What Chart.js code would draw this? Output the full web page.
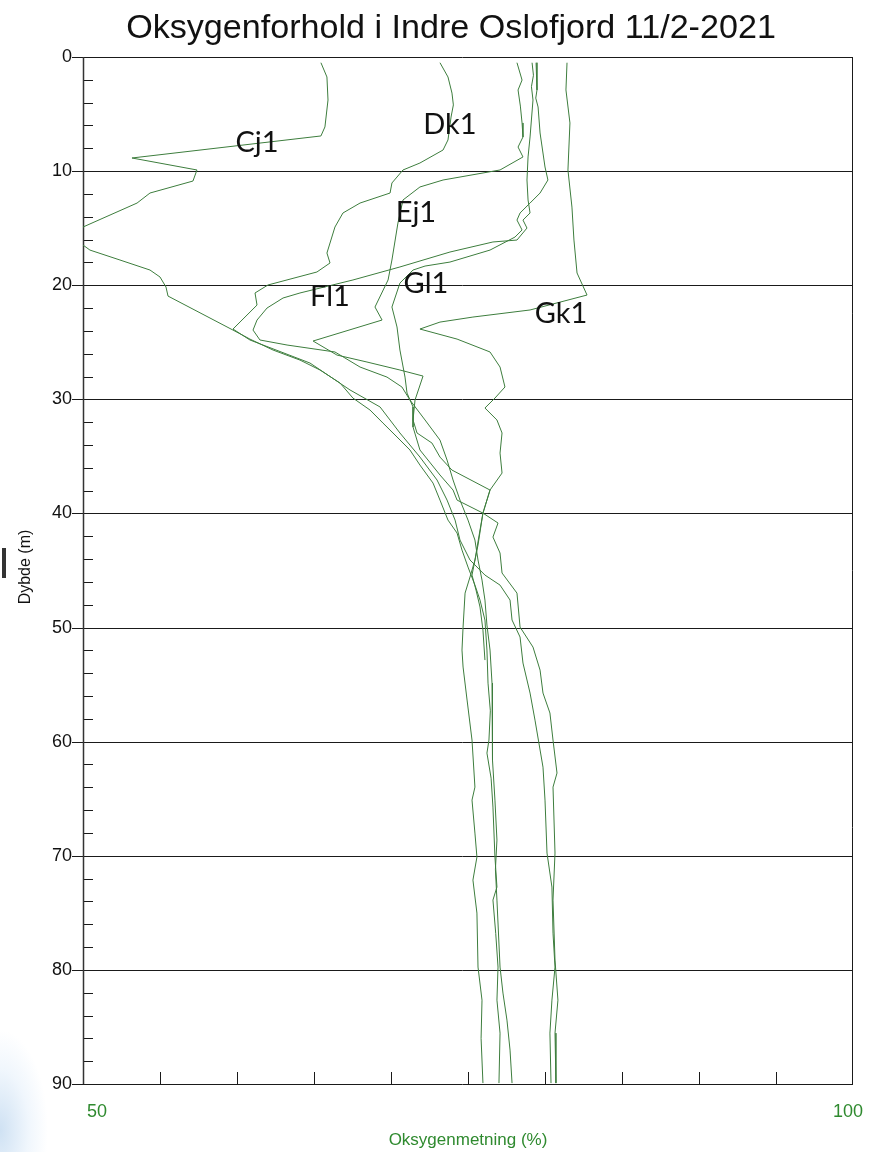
<!DOCTYPE html>
<html>
<head>
<meta charset="utf-8">
<script src="https://cdn.jsdelivr.net/npm/chart.js@4"></script>
<style>
  html,body{margin:0;padding:0;background:#fff;}
  #wrap{position:relative;width:873px;height:1152px;overflow:hidden;
    background:radial-gradient(ellipse 48px 100px at 0px 1130px, rgba(195,218,240,0.8), rgba(222,236,250,0.45) 60%, rgba(255,255,255,0) 100%), #fff;}
  #mark{position:absolute;left:2px;top:548px;width:4px;height:30px;background:#333;}
  canvas{position:absolute;left:0;top:0;}
</style>
</head>
<body>
<div id="wrap"><div id="mark"></div><canvas id="c" width="873" height="1152"></canvas></div>
<script>
// ---- Data (oxygen saturation %, depth m) ----
const titleText = "Oksygenforhold i Indre Oslofjord 11/2-2021";
const xTitle = "Oksygenmetning (%)";
const yTitle = "Dybde (m)";
const yTickLabels = ["0","10","20","30","40","50","60","70","80","90"];
const xTickLabels = ["50","100"];
const stationNames = ["Cj1","Dk1","Ej1","Fl1","Gl1","Gk1"];

const cj1Oxy   = [65.45,65.84,65.91,65.71,65.45,53.18,57.40,57.14,54.35,53.51,50.0,49.6,49.6,50.0,50.45,52.40,54.35,55.0,55.39,55.52,59.74,60.84,62.34,64.09,65.39,66.69,67.53,68.64,69.48,70.39,71.23,71.88,72.73,73.18,73.70,74.29,74.61,75.0,75.45,75.78,76.10,76.23,76.30,76.45,76.36,76.23,76.50,76.62,76.75,76.88,76.62,76.80,76.95,76.88,77.08,77.01];
const cj1Depth = [0.5,1.75,3.77,6.13,6.92,8.85,9.90,10.87,11.92,12.80,14.9,15.6,16.4,16.48,16.92,17.79,18.67,19.28,20.16,20.95,23.93,24.72,25.68,26.56,27.43,28.57,29.89,30.94,32.08,33.30,34.44,35.76,37.34,38.83,40.58,41.72,43.21,44.70,46.28,47.59,49.34,51.97,54.87,57.3,59.86,61.0,63.2,65.73,70.11,72.74,73.88,76.8,79.75,82.65,85.54,89.92];

const dk1Oxy   = [73.18,73.70,73.96,74.05,73.90,73.70,73.38,71.88,70.78,70.06,69.94,67.99,66.88,66.36,65.84,66.04,65.19,62.01,61.17,61.30,59.74,60.84,64.74,67.34,69.29,70.58,71.88,72.99,73.64,74.16,74.48,75.13,76.10,77.08,77.73,77.86,78.38,78.57,79.03,79.35,79.87,80.0,80.13,80.45,80.52,80.65,80.45,80.32,80.39];
const dk1Depth = [0.5,1.75,3.16,4.2,5.26,7.27,8.15,9.29,9.90,11.04,11.92,12.80,13.67,14.90,17.18,18.05,18.84,19.98,20.68,21.74,23.84,24.80,26.82,29.18,30.67,32.95,35.06,37.07,38.83,40.58,42.33,44.08,45.40,46.28,47.59,49.34,50.83,53.11,55.74,58.11,62.23,65.12,69.76,72.74,76.78,79.75,82.65,85.54,89.92];

const ej1Oxy   = [78.18,78.51,78.25,78.40,78.51,78.57,78.25,78.57,77.08,73.38,71.88,70.78,70.45,70.06,69.81,68.96,69.42,64.94,66.49,68.44,70.58,72.08,71.56,71.43,71.69,72.66,73.18,73.96,76.43,75.97,75.65,75.26,75.52,75.78,75.97,76.10];
const ej1Depth = [0.5,2.02,2.89,4.3,5.78,7.01,7.89,8.76,9.90,10.78,11.39,12.53,14.55,17.79,19.54,21.91,23.05,24.89,26.12,26.73,27.43,27.96,30.06,31.81,32.95,33.83,35.06,36.20,37.95,39.97,42.77,45.40,46.71,48.20,50.22,52.85];

const fl1Oxy   = [79.16,79.25,79.12,79.22,79.03,78.90,78.83,78.90,79.03,78.57,78.83,78.18,76.62,73.83,70.58,67.53,65.39,64.09,62.99,61.95,61.30,61.04,61.49,63.25,66.36,67.99,69.74,70.71,71.23,72.21,73.18,73.64,74.03,74.48,75.0,75.45,75.65,75.91,76.10,76.23,76.43,76.56,76.62,76.56,76.75,76.88,76.78,76.88,77.08,77.27,77.53,77.73,77.86];
const fl1Depth = [0.5,1.6,2.6,3.77,7.01,8.76,10.78,12.53,13.67,14.29,14.99,16.04,16.21,17.09,18.40,19.54,20.25,20.68,21.12,22.0,23.05,23.93,24.80,25.24,25.85,27.17,28.05,28.92,30.06,31.81,33.57,35.32,37.07,38.83,40.58,42.33,44.08,45.84,47.59,49.78,51.97,54.87,58.11,61.61,65.12,68.62,71.2,73.88,79.75,82.03,84.40,87.03,89.92];

const gl1Oxy   = [79.42,79.48,79.40,79.55,79.68,80.0,80.19,79.68,79.03,78.38,78.18,78.51,78.05,76.43,73.83,72.21,71.43,70.58,70.06,70.39,70.58,70.91,71.04,71.43,71.43,71.88,73.18,74.03,74.29,75.97,76.95,76.62,77.08,77.21,78.18,78.38,79.22,79.68,79.87,80.32,80.52,80.78,80.52,80.65,80.52,80.65,80.84,80.65,80.71];
const gl1Depth = [0.5,2.89,3.6,4.38,6.66,9.64,10.78,11.92,12.80,13.67,14.29,15.16,15.78,16.92,17.97,18.32,18.67,19.81,21.91,23.66,25.68,28.05,29.45,30.67,32.43,34.44,36.63,37.95,38.83,39.97,40.84,42.07,43.47,45.22,46.98,49.96,51.71,53.73,55.74,57.49,59.86,62.75,63.98,69.76,73.88,79.14,82.65,85.54,89.92];

const gk1Oxy   = [81.43,81.36,81.62,81.49,81.75,81.88,82.08,82.73,79.03,75.32,73.18,71.88,74.29,76.43,77.08,77.40,76.75,76.10,76.88,77.21,77.08,77.21,76.43,75.97,75.78,75.45,75.13,74.81,74.68,74.61,74.68,74.94,75.26,75.45,75.26,75.45,75.58,75.32,75.58,75.65,75.91,75.85,75.97];
const gk1Depth = [0.5,2.89,5.78,9.90,13.15,16.04,18.93,20.86,22.17,22.79,23.23,23.84,24.72,25.85,27.17,28.92,29.89,30.76,31.81,32.95,34.71,36.46,37.95,39.97,41.45,44.08,45.57,46.98,49.96,51.97,53.46,56.35,59.86,63.98,65.12,68.01,70.11,72.13,75.02,79.75,82.65,86.0,89.92];

// label anchor positions (oxygen %, depth m)
const labelOxy   = [61.3,73.83,71.62,66.04,72.27,81.04];
const labelDepth = [7.54,5.96,13.67,21.03,19.9,22.52];

// ---- build ----
const seriesOxy = [cj1Oxy, dk1Oxy, ej1Oxy, fl1Oxy, gl1Oxy, gk1Oxy];
const seriesDepth = [cj1Depth, dk1Depth, ej1Depth, fl1Depth, gl1Depth, gk1Depth];
const LINE = '#3d7d3d';
const datasets = stationNames.map((n, i) => ({
  label: n,
  data: seriesOxy[i].map((v, k) => ({x: v, y: seriesDepth[i][k]})),
  showLine: true, borderColor: LINE, borderWidth: 1, pointRadius: 0, tension: 0, fill: false
}));

const SANS = '"Liberation Sans", Arial, sans-serif';
const decor = {
  id: 'decor',
  beforeDatasetsDraw(chart) {
    const {ctx, chartArea: a, scales: {x, y}} = chart;
    ctx.save();
    ctx.strokeStyle = '#1a1a1a';
    ctx.lineWidth = 1;
    for (let d = 0; d <= 90; d += 10) {
      const py = Math.round(y.getPixelForValue(d)) + 0.5;
      ctx.beginPath(); ctx.moveTo(a.left - 11, py); ctx.lineTo(a.right, py); ctx.stroke();
    }
    for (let d = 2; d < 90; d += 2) {
      if (d % 10 === 0) continue;
      const py = Math.round(y.getPixelForValue(d)) + 0.5;
      ctx.beginPath(); ctx.moveTo(a.left, py); ctx.lineTo(a.left + 10, py); ctx.stroke();
    }
    ctx.strokeStyle = '#333';
    ctx.lineWidth = 1.5;
    ctx.beginPath(); ctx.moveTo(a.left + 0.5, a.top); ctx.lineTo(a.left + 0.5, a.bottom); ctx.stroke();
    ctx.lineWidth = 1;
    ctx.strokeStyle = '#1a1a1a';
    ctx.beginPath(); ctx.moveTo(a.right - 0.5, a.top); ctx.lineTo(a.right - 0.5, a.bottom + 0.5); ctx.stroke();
    for (let v = 55; v < 100; v += 5) {
      const px = Math.round(x.getPixelForValue(v)) + 0.5;
      ctx.beginPath(); ctx.moveTo(px, a.bottom - 12); ctx.lineTo(px, a.bottom); ctx.stroke();
    }
    ctx.restore();
  },
  afterDatasetsDraw(chart) {
    const {ctx, chartArea: a, scales: {x, y}} = chart;
    ctx.save();
    let fs = 25;
    ctx.font = fs + 'px ' + SANS;
    fs = fs * 650 / ctx.measureText(titleText).width;
    ctx.font = fs + 'px ' + SANS;
    ctx.fillStyle = '#111';
    ctx.textAlign = 'center'; ctx.textBaseline = 'alphabetic';
    ctx.fillText(titleText, 451, 38);
    ctx.font = '18px ' + SANS;
    ctx.textAlign = 'right'; ctx.textBaseline = 'middle';
    yTickLabels.forEach((t, i) => {
      ctx.fillText(t, a.left - 11, y.getPixelForValue(i * 10));
    });
    ctx.fillStyle = '#2f8a2f';
    ctx.textBaseline = 'middle';
    ctx.textAlign = 'left';
    ctx.fillText(xTickLabels[0], a.left + 4, 1112);
    ctx.textAlign = 'right';
    ctx.fillText(xTickLabels[1], a.right + 10, 1112);
    ctx.font = '17px ' + SANS;
    ctx.textAlign = 'center';
    ctx.fillText(xTitle, 468, 1140);
    ctx.fillStyle = '#111';
    ctx.translate(26, 567);
    ctx.rotate(-Math.PI / 2);
    ctx.font = '16px ' + SANS;
    ctx.textAlign = 'center'; ctx.textBaseline = 'middle';
    ctx.fillText(yTitle, 0, 0);
    ctx.restore();
    ctx.save();
    ctx.font = '29px Lato, "Open Sans", sans-serif';
    ctx.fillStyle = '#111';
    ctx.textAlign = 'center'; ctx.textBaseline = 'middle';
    stationNames.forEach((n, i) => {
      ctx.fillText(n, x.getPixelForValue(labelOxy[i]), y.getPixelForValue(labelDepth[i]));
    });
    ctx.restore();
  }
};

new Chart(document.getElementById('c'), {
  type: 'scatter',
  data: {datasets},
  options: {
    responsive: false, devicePixelRatio: 1, animation: false,
    layout: {padding: {top: 57, right: 20, left: 0, bottom: 0}},
    plugins: {legend: {display: false}, tooltip: {enabled: false}, title: {display: false}},
    scales: {
      x: {type: 'linear', min: 50, max: 100, position: 'bottom',
          grid: {display: false}, border: {display: false}, ticks: {display: false},
          afterFit(s) { s.height = 68; }},
      y: {type: 'linear', min: 0, max: 90, reverse: true,
          grid: {display: false}, border: {display: false}, ticks: {display: false},
          afterFit(s) { s.width = 83; }}
    }
  },
  plugins: [decor]
});
</script>
</body>
</html>
